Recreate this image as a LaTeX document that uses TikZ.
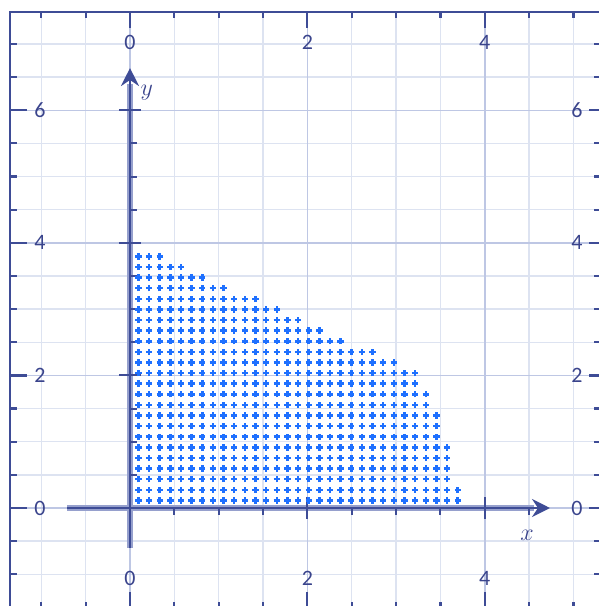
\documentclass[tikz,border=0pt]{standalone}
\usepackage{fontspec}
\setmainfont{Carlito}
\usetikzlibrary{arrows.meta}
\definecolor{framenavy}{RGB}{62,76,150}
\definecolor{gridminor}{RGB}{221,227,241}
\definecolor{gridmajor}{RGB}{190,199,228}
\definecolor{axisband}{RGB}{150,160,205}
\definecolor{dotblue}{RGB}{30,112,255}
\definecolor{labelnavy}{RGB}{58,68,140}
\tikzset{
  edgetick/.style={framenavy, line width=1.1pt},
  axistick/.style={framenavy, line width=1pt},
  plusmark/.style={dotblue, line width=1.25pt},
  ticklabel/.style={labelnavy, font=\fontsize{11}{13}\selectfont, inner sep=0pt},
  axislabel/.style={labelnavy, font=\fontsize{12.5}{15}\selectfont, inner sep=0pt}
}
\begin{document}
\begin{tikzpicture}[x=44.35pt,y=33.15pt]
\useasboundingbox (-1.4656,-1.4781) rectangle (5.2875,7.6621);
\clip (-1.4656,-1.4781) rectangle (5.2875,7.6621);
\draw[gridminor, line width=0.7pt] (-1.353,-1.508) grid[step=0.5] (5.31,7.481);
\foreach \v in {0,2,4} \draw[gridmajor, line width=0.7pt] (\v,-1.508) -- (\v,7.481);
\foreach \v in {0,2,4,6} \draw[gridmajor, line width=0.7pt] (-1.353,\v) -- (5.31,\v);
\draw[framenavy, line width=1.2pt] (-1.353,-1.508) rectangle (5.31,7.481);
\foreach \k in {-2,...,10} {
  \draw[edgetick] (\k/2,7.481) -- ++(0,-3pt);
  \draw[edgetick] (\k/2,-1.508) -- ++(0,3pt);
}
\foreach \k in {-2,...,14} {
  \draw[edgetick] (-1.353,\k/2) -- ++(3.5pt,0);
  \draw[edgetick] (5.31,\k/2) -- ++(-3.5pt,0);
}
\foreach \v in {0,2,4} {
  \draw[edgetick] (\v,7.481) -- ++(0,-8pt);
  \draw[edgetick] (\v,-1.508) -- ++(0,8pt);
  \node[ticklabel] (top\v) at (\v,7.029) {\v};
  \node[ticklabel] (bottom\v) at (\v,-1.056) {\v};
}
\foreach \v in {0,2,4,6} {
  \draw[edgetick] (-1.353,\v) -- ++(8.5pt,0);
  \draw[edgetick] (5.31,\v) -- ++(-6pt,0);
  \node[ticklabel] (left\v) at (-1.015,\v) {\v};
  \node[ticklabel] (right\v) at (5.04,\v) {\v};
}
\coordinate (xstart) at (-0.71,0);
\coordinate (xend) at (4.735,0);
\coordinate (ystart) at (0,-0.603);
\coordinate (yend) at (0,6.636);
\draw[axisband, line width=3pt] (xstart) -- (4.55,0);
\draw[axisband, line width=3pt] (ystart) -- (0,6.4);
\draw[framenavy, line width=1.2pt, -{Stealth[length=9pt,width=9pt,inset=3pt]}] (xstart) -- (xend);
\draw[framenavy, line width=1.2pt, -{Stealth[length=9pt,width=9pt,inset=3pt]}] (ystart) -- (yend);
\foreach \k in {1,...,9} \draw[axistick] (\k/2,0) -- ++(0,-3.5pt);
\foreach \k in {1,...,12} \draw[axistick] (0,\k/2) -- ++(3.5pt,0);
\foreach \v in {0,2,4} \draw[axistick] (\v,5.5pt) -- (\v,-5.5pt);
\foreach \v in {0,2,4,6} \draw[axistick] (-5.5pt,\v) -- (5.5pt,\v);
\node[axislabel] (xlabel) at (4.476,-0.407) {$x$};
\node[axislabel] (ylabel) at (0.19,6.27) {$y$};
\foreach \j/\n in {0/30,1/30,2/29,3/29,4/29,5/29,6/28,7/28,8/28,9/27,10/27,11/26,12/26,13/24,14/22,15/19,16/17,17/15,18/13,19/11,20/8,21/6,22/4,23/2}
  \foreach \i in {0,...,\n}
    \draw[plusmark] (0.095+0.12*\i,0.115+0.16*\j) +(-1.6pt,0) -- +(1.6pt,0) +(0,-1.6pt) -- +(0,1.6pt);
\end{tikzpicture}
\end{document}
